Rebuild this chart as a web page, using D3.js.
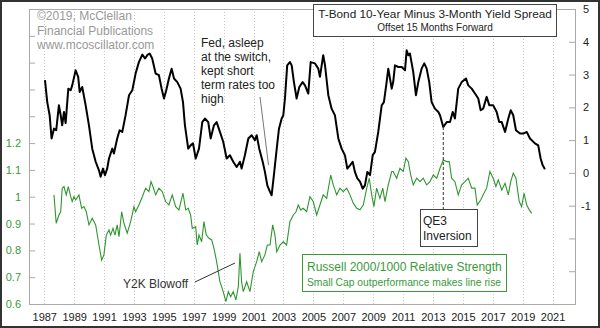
<!DOCTYPE html>
<html>
<head>
<meta charset="utf-8">
<script src="https://cdn.jsdelivr.net/npm/d3@7"></script>
<style>
  body { margin: 0; background: #fff; }
  svg { display: block; font-family: Arial, "Liberation Sans", sans-serif; }
</style>
</head>
<body>
<svg width="600" height="328"></svg>
<script>
// Data
// ----
// 10yr minus 3mo spread, shifted 15 months forward: [year, %]
var spreadSeries = [
  [1987.05, 2.83], [1987.20, 2.16], [1987.36, 1.76], [1987.49, 1.05], [1987.65, 1.35],
  [1987.80, 1.30], [1987.98, 2.06], [1988.10, 1.76], [1988.20, 1.45], [1988.32, 1.86],
  [1988.43, 1.52], [1988.61, 2.57], [1988.77, 2.52], [1988.87, 2.67], [1989.10, 3.13],
  [1989.27, 2.93], [1989.37, 2.47], [1989.54, 2.62], [1989.77, 2.06], [1989.99, 1.45],
  [1990.21, 0.74], [1990.44, 0.34], [1990.66, 0.08], [1990.77, -0.12], [1990.93, 0.13],
  [1991.06, -0.07], [1991.21, 0.13], [1991.33, 0.44], [1991.55, 0.74], [1991.66, 0.59],
  [1991.88, 1.05], [1992.04, 1.30], [1992.22, 1.25], [1992.44, 1.76], [1992.67, 2.37],
  [1992.89, 2.52], [1993.11, 3.03], [1993.33, 3.38], [1993.56, 3.61], [1993.74, 3.49],
  [1993.92, 3.61], [1994.05, 3.64], [1994.22, 3.49], [1994.45, 3.03], [1994.67, 2.98],
  [1994.85, 2.57], [1995.01, 2.27], [1995.16, 2.52], [1995.34, 2.88], [1995.52, 3.18],
  [1995.68, 2.88], [1995.90, 2.77], [1996.12, 2.57], [1996.28, 2.16], [1996.41, 1.45],
  [1996.63, 0.74], [1996.79, 0.84], [1996.95, 0.90], [1997.13, 0.44], [1997.35, 0.74],
  [1997.57, 1.55], [1997.75, 1.66], [1997.97, 1.55], [1998.13, 1.05], [1998.35, 1.45],
  [1998.53, 1.55], [1998.75, 1.25], [1998.97, 0.95], [1999.20, 0.44], [1999.42, 0.54],
  [1999.64, 0.34], [1999.87, 0.18], [2000.09, 0.34], [2000.20, 0.13], [2000.42, 0.54],
  [2000.65, 1.05], [2000.87, 1.15], [2001.09, 1.00], [2001.21, 1.15], [2001.38, 0.74],
  [2001.61, 0.34], [2001.76, 0.03], [2001.92, -0.38], [2002.10, -0.58], [2002.21, -0.68],
  [2002.36, -0.07], [2002.55, 0.74], [2002.70, 1.35], [2002.88, 1.66], [2002.99, 1.76],
  [2003.10, 2.27], [2003.25, 3.28], [2003.43, 3.38], [2003.55, 3.28], [2003.70, 2.77],
  [2003.88, 2.27], [2004.06, 2.62], [2004.28, 2.77], [2004.44, 2.67], [2004.66, 2.42],
  [2004.82, 3.38], [2005.11, 3.34], [2005.33, 3.18], [2005.44, 2.93], [2005.66, 3.59],
  [2005.78, 3.28], [2006.00, 2.37], [2006.22, 1.96], [2006.44, 1.76], [2006.67, 1.05],
  [2006.89, 0.74], [2007.11, 0.54], [2007.27, 0.13], [2007.45, 0.23], [2007.63, 0.34],
  [2007.78, 0.03], [2007.94, -0.17], [2008.12, -0.27], [2008.30, -0.48], [2008.45, -0.38],
  [2008.61, 0.03], [2008.79, -0.07], [2008.97, 0.54], [2009.12, 0.64], [2009.34, 1.25],
  [2009.57, 2.06], [2009.72, 2.16], [2009.90, 2.77], [2010.01, 3.18], [2010.24, 2.57],
  [2010.34, 2.77], [2010.46, 3.28], [2010.68, 3.23], [2010.91, 3.23], [2011.13, 3.13],
  [2011.24, 3.74], [2011.35, 3.59], [2011.46, 3.64], [2011.68, 3.08], [2011.86, 2.37],
  [2012.02, 2.77], [2012.24, 3.18], [2012.42, 3.34], [2012.58, 3.18], [2012.75, 2.77],
  [2012.91, 2.16], [2013.13, 1.96], [2013.36, 1.86], [2013.47, 1.76], [2013.69, 1.40],
  [2013.92, 1.55], [2014.14, 1.55], [2014.32, 1.86], [2014.47, 1.66], [2014.69, 2.57],
  [2014.92, 2.77], [2015.21, 2.88], [2015.36, 2.67], [2015.59, 2.57], [2015.81, 2.42],
  [2016.03, 2.27], [2016.19, 1.91], [2016.36, 1.96], [2016.59, 2.32], [2016.77, 2.06],
  [2017.03, 2.06], [2017.26, 1.86], [2017.43, 1.55], [2017.60, 1.55], [2017.82, 1.25],
  [2018.04, 1.66], [2018.20, 1.91], [2018.37, 1.76], [2018.55, 1.30], [2018.82, 1.20],
  [2019.04, 1.20], [2019.27, 1.25], [2019.49, 1.05], [2019.82, 0.90], [2020.04, 0.84],
  [2020.20, 0.44], [2020.34, 0.23], [2020.49, 0.11]
];

// Russell 2000 / Russell 1000 ratio: [year, ratio]
var russellSeries = [
  [1987.65, 1.007], [1987.80, 0.901], [1987.98, 0.932], [1988.10, 0.944], [1988.20, 1.032],
  [1988.32, 1.038], [1988.47, 1.007], [1988.61, 1.038], [1988.77, 1.000], [1988.87, 0.982],
  [1988.99, 1.000], [1989.10, 0.988], [1989.32, 1.007], [1989.50, 0.957], [1989.66, 0.963],
  [1989.81, 0.944], [1989.99, 0.895], [1990.21, 0.920], [1990.44, 0.895], [1990.66, 0.820],
  [1990.84, 0.764], [1990.99, 0.783], [1991.15, 0.857], [1991.33, 0.876], [1991.44, 0.857],
  [1991.60, 0.882], [1991.73, 0.857], [1991.88, 0.895], [1992.00, 0.851], [1992.18, 0.944],
  [1992.33, 0.901], [1992.55, 0.864], [1992.78, 0.907], [1993.00, 0.963], [1993.11, 0.944],
  [1993.33, 0.969], [1993.56, 1.000], [1993.78, 1.032], [1994.00, 1.019], [1994.14, 1.056],
  [1994.27, 1.038], [1994.45, 1.007], [1994.67, 1.032], [1994.89, 1.019], [1995.12, 0.982],
  [1995.34, 0.969], [1995.56, 1.007], [1995.79, 0.963], [1996.01, 0.951], [1996.28, 1.013],
  [1996.46, 0.951], [1996.63, 0.957], [1996.79, 0.932], [1996.90, 0.882], [1997.13, 0.888],
  [1997.23, 0.820], [1997.35, 0.857], [1997.53, 0.832], [1997.68, 0.907], [1997.84, 0.857],
  [1998.02, 0.845], [1998.20, 0.839], [1998.35, 0.808], [1998.53, 0.758], [1998.75, 0.683],
  [1998.97, 0.646], [1999.15, 0.609], [1999.31, 0.646], [1999.47, 0.627], [1999.64, 0.646],
  [1999.82, 0.615], [1999.98, 0.665], [2000.09, 0.789], [2000.20, 0.683], [2000.31, 0.646],
  [2000.54, 0.683], [2000.76, 0.646], [2000.98, 0.721], [2001.21, 0.758], [2001.38, 0.795],
  [2001.54, 0.758], [2001.76, 0.783], [2001.92, 0.820], [2002.10, 0.820], [2002.28, 0.895],
  [2002.43, 0.857], [2002.55, 0.795], [2002.77, 0.820], [2002.99, 0.832], [2003.21, 0.820],
  [2003.43, 0.907], [2003.66, 0.932], [2003.84, 0.944], [2003.99, 0.969], [2004.15, 0.951],
  [2004.32, 0.957], [2004.55, 0.944], [2004.77, 1.000], [2004.99, 0.982], [2005.22, 0.932],
  [2005.44, 0.969], [2005.66, 1.007], [2005.89, 0.994], [2006.16, 1.081], [2006.33, 1.044],
  [2006.56, 1.007], [2006.78, 1.032], [2007.00, 1.019], [2007.23, 1.032], [2007.45, 1.007],
  [2007.67, 0.976], [2007.90, 0.957], [2008.12, 0.951], [2008.34, 0.969], [2008.57, 1.032],
  [2008.74, 1.069], [2008.90, 1.007], [2009.05, 0.963], [2009.23, 1.032], [2009.45, 0.994],
  [2009.64, 1.032], [2009.79, 0.982], [2010.01, 1.044], [2010.24, 1.094], [2010.34, 1.094],
  [2010.57, 1.069], [2010.79, 1.106], [2011.01, 1.094], [2011.19, 1.144], [2011.35, 1.131],
  [2011.51, 1.081], [2011.68, 1.044], [2011.91, 1.069], [2012.13, 1.056], [2012.35, 1.069],
  [2012.58, 1.044], [2012.80, 1.056], [2013.02, 1.081], [2013.25, 1.069], [2013.47, 1.106],
  [2013.69, 1.137], [2013.92, 1.131], [2014.09, 1.131], [2014.25, 1.069], [2014.47, 1.056],
  [2014.69, 1.007], [2014.92, 1.044], [2015.14, 1.056], [2015.36, 1.069], [2015.59, 1.032],
  [2015.81, 1.032], [2015.96, 0.969], [2016.19, 0.988], [2016.36, 1.007], [2016.59, 1.032],
  [2016.81, 1.094], [2017.03, 1.069], [2017.21, 1.038], [2017.37, 1.063], [2017.60, 1.025],
  [2017.82, 1.050], [2018.04, 1.007], [2018.20, 1.056], [2018.37, 1.088], [2018.55, 1.069],
  [2018.77, 0.982], [2018.93, 0.963], [2019.09, 1.013], [2019.27, 0.969], [2019.44, 0.951],
  [2019.60, 0.938]
];

var yearTicks = d3.range(1987, 2022, 2);
var spreadTicks = [-4, -3, -2, -1, 0, 1, 2, 3, 4, 5];
var spreadLabels = [5, 4, 3, 2, 1, 0, -1];
var ratioTicks = [0.6, 0.7, 0.8, 0.9, 1, 1.1, 1.2, 1.3, 1.4, 1.5, 1.6, 1.7];
var ratioLabels = [0.6, 0.7, 0.8, 0.9, 1, 1.1, 1.2];
var qe3Year = 2013.69;

var titleLines = ['T-Bond 10-Year Minus 3-Month Yield Spread', 'Offset 15 Months Forward'];
var creditLines = ['\u00a92019, McClellan', 'Financial Publications', 'www.mcoscillator.com'];
var fedLines = ['Fed, asleep', 'at the switch,', 'kept short', 'term rates too', 'high'];
var qeLines = ['QE3', 'Inversion'];
var russellLines = ['Russell 2000/1000 Relative Strength', 'Small Cap outperformance makes line rise'];

// Setup
// -----
var green = '#3a9a3a';
var svg = d3.select('svg');
var plot = { left: 29, right: 575, top: 9, bottom: 304 };

var x = d3.scaleLinear().domain([1985.98, 2022.5]).range([plot.left, plot.right]);
var ySpread = d3.scaleLinear().domain([-4, 5]).range([plot.bottom, plot.top]);
var yRatio = d3.scaleLinear().domain([0.6, 1.7]).range([plot.bottom, plot.top]);

svg.append('rect').attr('width', 600).attr('height', 328).attr('fill', '#fff');

// grid
svg.append('g').selectAll('line')
  .data(yearTicks).enter().append('line')
  .attr('x1', function (d) { return Math.round(x(d)) + 0.5; })
  .attr('x2', function (d) { return Math.round(x(d)) + 0.5; })
  .attr('y1', plot.top).attr('y2', plot.bottom)
  .attr('stroke', '#c8c8c8')
  .attr('stroke-dasharray', '1,2');

// Axes
// ----
var leftAxis = d3.axisLeft(yRatio)
  .tickValues(ratioTicks)
  .tickSizeInner(-6).tickSizeOuter(0).tickPadding(8)
  .tickFormat(function (d) { return ratioLabels.indexOf(d) >= 0 ? String(d) : ''; });
var gl = svg.append('g').attr('transform', 'translate(' + plot.left + ',0)').call(leftAxis);
gl.select('.domain').remove();
gl.selectAll('line').attr('stroke', '#aaa');
gl.selectAll('text').attr('fill', green).attr('font-size', 11)
  .attr('font-family', 'Arial, "Liberation Sans", sans-serif');

var rightAxis = d3.axisRight(ySpread)
  .tickValues(spreadTicks)
  .tickSizeInner(-6).tickSizeOuter(0).tickPadding(11)
  .tickFormat(function (d) { return spreadLabels.indexOf(d) >= 0 ? String(d) : ''; });
var gr = svg.append('g').attr('transform', 'translate(' + plot.right + ',0)').call(rightAxis);
gr.select('.domain').remove();
gr.selectAll('line').attr('stroke', '#aaa');
gr.selectAll('text').attr('fill', '#222').attr('font-size', 11)
  .attr('text-anchor', 'middle')
  .attr('font-family', 'Arial, "Liberation Sans", sans-serif');

var bottomAxis = d3.axisBottom(x)
  .tickValues(yearTicks).tickSize(0).tickPadding(9)
  .tickFormat(d3.format('d'));
var gb = svg.append('g').attr('transform', 'translate(0,' + plot.bottom + ')').call(bottomAxis);
gb.select('.domain').remove();
gb.selectAll('text').attr('fill', '#222').attr('font-size', 11)
  .attr('font-family', 'Arial, "Liberation Sans", sans-serif');

svg.append('rect')
  .attr('x', plot.left + 0.5).attr('y', plot.top + 0.5)
  .attr('width', plot.right - plot.left).attr('height', plot.bottom - plot.top)
  .attr('fill', 'none').attr('stroke', '#aaa');

// Lines
// -----
var russellLine = d3.line()
  .x(function (d) { return x(d[0]); })
  .y(function (d) { return yRatio(d[1]); });
svg.append('path').datum(russellSeries)
  .attr('d', russellLine)
  .attr('fill', 'none').attr('stroke', '#2f962f').attr('stroke-width', 1.1);

var spreadLine = d3.line()
  .x(function (d) { return x(d[0]); })
  .y(function (d) { return ySpread(d[1]); });
svg.append('path').datum(spreadSeries)
  .attr('d', spreadLine)
  .attr('fill', 'none').attr('stroke', '#000').attr('stroke-width', 2)
  .attr('stroke-linejoin', 'round');

// Annotations
// -----------
function lines(g, arr, x0, y0, step, size, color) {
  g.selectAll(null).data(arr).enter().append('text')
    .attr('x', x0).attr('y', function (d, i) { return y0 + i * step; })
    .attr('font-size', size).attr('fill', color)
    .text(function (d) { return d; });
}

lines(svg.append('g'), creditLines, 37, 20, 14.5, 12, '#999');
lines(svg.append('g'), fedLines, 201, 47, 14, 12, '#222');

svg.append('line')
  .attr('x1', 260).attr('y1', 97).attr('x2', 268.5).attr('y2', 165)
  .attr('stroke', '#777');

// title box
svg.append('rect')
  .attr('x', 313.5).attr('y', 4.5).attr('width', 243).attr('height', 32)
  .attr('fill', '#fff').attr('stroke', '#444');
svg.append('text').attr('x', 435).attr('y', 18).attr('text-anchor', 'middle')
  .attr('font-size', 11.8).attr('fill', '#222').text(titleLines[0]);
svg.append('text').attr('x', 435).attr('y', 31).attr('text-anchor', 'middle')
  .attr('font-size', 10).attr('fill', '#222').text(titleLines[1]);

// QE3 marker
var qeLast = spreadSeries.filter(function (d) { return d[0] === qe3Year; })[0];
svg.append('line')
  .attr('x1', x(qe3Year)).attr('x2', x(qe3Year))
  .attr('y1', ySpread(qeLast[1])).attr('y2', 209)
  .attr('stroke', '#333').attr('stroke-dasharray', '3,2');
svg.append('rect')
  .attr('x', 420.5).attr('y', 209.5).attr('width', 57).attr('height', 37)
  .attr('fill', '#fff').attr('stroke', '#444');
lines(svg.append('g'), qeLines, 423, 225, 15, 12, '#222');

// Y2K
svg.append('text').attr('x', 123).attr('y', 288)
  .attr('font-size', 12).attr('fill', '#333').text('Y2K Blowoff');
svg.append('line')
  .attr('x1', 195).attr('y1', 282).attr('x2', 235).attr('y2', 263)
  .attr('stroke', '#333');

// Russell legend box
svg.append('rect')
  .attr('x', 302.5).attr('y', 254.5).attr('width', 204).attr('height', 37)
  .attr('fill', '#fff').attr('stroke', green);
svg.append('text').attr('x', 307).attr('y', 271)
  .attr('font-size', 12).attr('fill', green).text(russellLines[0]);
svg.append('text').attr('x', 307).attr('y', 286)
  .attr('font-size', 10.3).attr('fill', green).text(russellLines[1]);

// outer frame
svg.append('rect')
  .attr('x', 1).attr('y', 1).attr('width', 598).attr('height', 326)
  .attr('fill', 'none').attr('stroke', '#333').attr('stroke-width', 2);
</script>
</body>
</html>
